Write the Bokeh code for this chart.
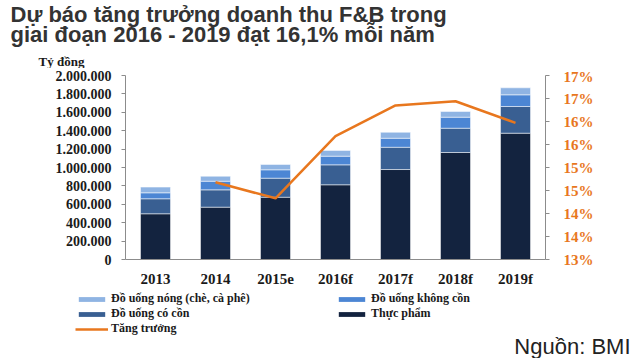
from bokeh.plotting import figure
from bokeh.layouts import column
from bokeh.models import (Range1d, LinearAxis, FixedTicker, Label, Legend, LegendItem,
                          FactorRange, ColumnDataSource)
from bokeh.embed import file_html
from bokeh.resources import INLINE

# ---- data ----
years = ["2013", "2014", "2015e", "2016f", "2017f", "2018f", "2019f"]
thuc_pham = [497000, 569000, 677000, 812000, 978000, 1163000, 1373000]
do_uong_co_con = [163000, 188000, 207000, 217000, 242000, 264000, 290000]
do_uong_khong_con = [65000, 94000, 91000, 94000, 98000, 120000, 127000]
do_uong_nong = [62000, 54000, 58000, 62000, 65000, 62000, 76000]
growth_years = ["2014", "2015e", "2016f", "2017f", "2018f", "2019f"]
growth = [14.68, 14.33, 15.68, 16.35, 16.44, 15.97]

left_ticks = [0, 200000, 400000, 600000, 800000, 1000000, 1200000, 1400000,
              1600000, 1800000, 2000000]
left_labels = ["0", "200.000", "400.000", "600.000", "800.000", "1.000.000",
               "1.200.000", "1.400.000", "1.600.000", "1.800.000", "2.000.000"]
right_ticks = [13, 13.5, 14, 14.5, 15, 15.5, 16, 16.5, 17]
right_labels = ["13%", "14%", "14%", "15%", "15%", "16%", "16%", "17%", "17%"]

series_names = ["Thực phẩm", "Đồ uống có cồn", "Đồ uống không cồn",
                "Đồ uống nóng (chè, cà phê)"]
growth_name = "Tăng trưởng"
title_lines = ["Dự báo tăng trưởng doanh thu F&B trong",
               "giai đoạn 2016 - 2019 đạt 16,1% mỗi năm"]
unit_text = "Tỷ đồng"
source_text = "Nguồn: BMI"

colors = ["#13233f", "#395f92", "#4c86d4", "#8fb4e3"]
orange = "#e8771e"
serif = "Liberation Serif"
sans = "Liberation Sans"

W = 636
HEAD_H, MAIN_H, FOOT_H = 68, 223, 67
FL, FR, FT, FB = 125, 545, 75, 259   # frame edges on the page


def no_align(f):
    if "frame_align" in f.properties():
        f.frame_align = False


def blank(h, x0=0, left=0):
    f = figure(width=W, height=h, x_range=Range1d(x0, W), y_range=Range1d(h, 0),
               output_backend="svg", toolbar_location=None,
               x_axis_location=None, y_axis_location=None,
               min_border=0, min_border_left=left)
    f.xgrid.grid_line_color = None
    f.ygrid.grid_line_color = None
    f.outline_line_color = None
    no_align(f)
    return f


# ---- header: title and unit ----
head = blank(HEAD_H)
for txt, yy in zip(title_lines, [1, 21]):
    head.add_layout(Label(x=10, y=yy, text=txt, text_font=sans,
                          text_font_style="bold", text_font_size="22px",
                          text_color="#333333", text_baseline="top"))
head.add_layout(Label(x=38, y=53, text=unit_text, text_font=serif,
                      text_font_style="bold", text_font_size="13px",
                      text_color="#1a1a1a", text_baseline="top"))

# ---- main chart ----
p = figure(width=W, height=MAIN_H, x_range=FactorRange(factors=years),
           y_range=Range1d(0, 2000000), output_backend="svg",
           toolbar_location=None, min_border_left=FL, min_border_right=W - FR,
           min_border_top=FT - HEAD_H, min_border_bottom=HEAD_H + MAIN_H - FB)
no_align(p)
p.extra_y_ranges = {"pct": Range1d(13, 17)}
p.outline_line_color = None
p.xgrid.grid_line_color = None
p.ygrid.grid_line_color = None

src = ColumnDataSource(dict(x=years, a=thuc_pham, b=do_uong_co_con,
                            c=do_uong_khong_con, d=do_uong_nong))
p.vbar_stack(["a", "b", "c", "d"], x="x", width=0.5, source=src,
             color=colors, line_color="white", line_width=0.5)
p.line(growth_years, growth, y_range_name="pct", line_color=orange,
       line_width=2.5)

ya = p.yaxis[0]
ya.ticker = FixedTicker(ticks=left_ticks)
ya.major_label_overrides = {t: l for t, l in zip(left_ticks, left_labels)}
ya.minor_tick_line_color = None
ya.axis_line_color = "#8c8c8c"
ya.major_tick_line_color = "#8c8c8c"
ya.major_tick_in = 0
ya.major_tick_out = 4
ya.major_label_text_font = serif
ya.major_label_text_font_style = "bold"
ya.major_label_text_font_size = "14px"
ya.major_label_text_color = "#1a1a1a"
ya.major_label_standoff = 10

ra = LinearAxis(y_range_name="pct", ticker=FixedTicker(ticks=right_ticks))
ra.major_label_overrides = {t: l for t, l in zip(right_ticks, right_labels)}
ra.minor_tick_line_color = None
ra.axis_line_color = "#8c8c8c"
ra.major_tick_line_color = "#8c8c8c"
ra.major_tick_in = 0
ra.major_tick_out = 4
ra.major_label_text_font = serif
ra.major_label_text_font_style = "bold"
ra.major_label_text_font_size = "15px"
ra.major_label_text_color = orange
ra.major_label_standoff = 14
p.add_layout(ra, "right")

xa = p.xaxis[0]
xa.axis_line_color = "#8c8c8c"
xa.major_tick_line_color = None
xa.major_tick_in = 0
xa.major_tick_out = 0
xa.major_label_text_font = serif
xa.major_label_text_font_style = "bold"
xa.major_label_text_font_size = "15px"
xa.major_label_text_color = "#1a1a1a"
xa.major_label_standoff = 11

# ---- footer: legend and source ----
FOOT_TOP = HEAD_H + MAIN_H
foot = blank(FOOT_H, x0=75, left=75)
proxy = {}
for name, c in zip(series_names, colors):
    proxy[name] = foot.vbar(x=[0], top=[0], width=0, fill_color=c,
                            line_color=None, visible=False)
proxy[growth_name] = foot.line(x=[0], y=[0], line_color=orange, line_width=2.5,
                               visible=False)

order = [series_names[3], series_names[2], series_names[1], series_names[0],
         growth_name]
legend = Legend(
    items=[LegendItem(label=n, renderers=[proxy[n]]) for n in order],
    orientation="horizontal", ncols=2, location="top_left",
    label_text_font=serif, label_text_font_style="bold",
    label_text_font_size="12px", label_text_color="#1a1a1a",
    label_text_line_height=1.0,
    glyph_width=33, glyph_height=6, label_height=12, label_width=224,
    label_standoff=3, spacing=0, padding=0, margin=0,
    inactive_fill_alpha=0, click_policy="none",
    border_line_color=None, background_fill_alpha=0)
foot.add_layout(legend, "center")
foot.add_layout(Label(x=630, y=333 - FOOT_TOP, text=source_text, text_font=sans,
                      text_font_size="22px", text_color="#222222",
                      text_align="right", text_baseline="top"))

layout = column(head, p, foot, spacing=0)
open("out.html", "w").write(file_html(layout, INLINE))
